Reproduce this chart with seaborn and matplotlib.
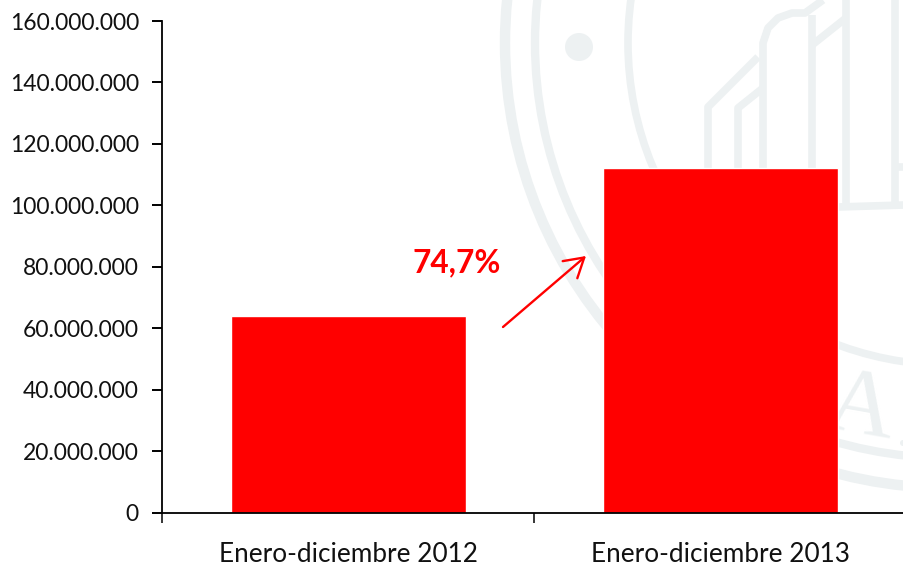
import numpy as np
import pandas as pd
import matplotlib
matplotlib.use('Agg')
import matplotlib.pyplot as plt
import seaborn as sns
from matplotlib.patches import Circle

periods = ['Enero-diciembre 2012', 'Enero-diciembre 2013']
values = [64100000, 112000000]
yticks = [0, 20000000, 40000000, 60000000, 80000000, 100000000, 120000000, 140000000, 160000000]
ylabels = ['0', '20.000.000', '40.000.000', '60.000.000', '80.000.000',
           '100.000.000', '120.000.000', '140.000.000', '160.000.000']
growth = '74,7%'

W, H = 904, 566
RED = '#ff0000'
MARK = '#edf1f2'

sns.set_style('white')
plt.rcParams['font.family'] = ['Lato', 'DejaVu Sans']

fig = plt.figure(figsize=(W / 100, H / 100), dpi=100)

# background layer in pixel coordinates: watermark, arrow, growth label
bg = fig.add_axes([0, 0, 1, 1], zorder=0)
bg.set_xlim(0, W)
bg.set_ylim(H, 0)
bg.axis('off')

for r, lw in [(445, 7.5), (415, 6), (322, 5.5)]:
    bg.add_patch(Circle((950, 43), r, fill=False, ec=MARK, lw=lw))
bg.add_patch(Circle((579, 47), 14, fc=MARK, ec='none'))
bg.add_patch(Circle((903, 443), 3, fc=MARK, ec='none'))

building = [
    ([708, 708, 758], [200, 107, 57]),
    ([738, 738, 763], [200, 108, 88]),
    ([763, 763, 768, 778, 792, 805, 823], [210, 43, 28, 18, 13, 13, 0]),
    ([812, 812], [15, 210]),
    ([812, 846], [45, 18]),
    ([846, 846], [0, 205]),
    ([895, 895], [0, 205]),
    ([895, 904], [167, 167]),
    ([838, 904], [207, 205]),
]
for xs, ys in building:
    bg.plot(xs, ys, color=MARK, lw=5.5, solid_capstyle='butt', solid_joinstyle='round')

bg.text(860, 410, 'A', family='Liberation Serif', fontsize=68, color=MARK,
        rotation=-10, ha='center', va='center')

bg.annotate('', xy=(586, 256), xytext=(503, 327),
            arrowprops=dict(arrowstyle='->,head_length=0.75,head_width=0.45',
                            mutation_scale=18, color=RED, lw=1.7, shrinkA=0, shrinkB=0))
bg.text(457, 262.5, growth, color=RED, fontsize=22.8, fontweight='bold',
        ha='center', va='center')

# main chart
df = pd.DataFrame({'period': periods, 'value': values})
ax = fig.add_axes([162.5 / W, (H - 512.5) / H, 744 / W, 491.5 / H], zorder=1)
ax.patch.set_alpha(0)
sns.barplot(data=df, x='period', y='value', color=RED, saturation=1, width=0.63, ax=ax)

ax.set_xlim(-0.5, 1.5)
ax.set_ylim(0, 160000000)
ax.set_xlabel('')
ax.set_ylabel('')
ax.set_yticks(yticks)
ax.set_yticklabels(ylabels, fontsize=16.5, color='#111111')
ax.set_xticks([-0.5, 0.5, 1.5])
ax.set_xticklabels(['', '', ''])
ax.tick_params(axis='y', left=True, length=7, width=1.4, color='black', pad=10)
ax.tick_params(axis='x', bottom=True, length=7, width=1.1, color='black')
for i, name in enumerate(periods):
    ax.text(i, -0.086, name, transform=ax.get_xaxis_transform(), fontsize=18.8,
            color='#111111', ha='center', va='center', clip_on=False)

sns.despine(ax=ax)
ax.spines['left'].set_linewidth(1.3)
ax.spines['left'].set_color('black')
ax.spines['bottom'].set_linewidth(1.3)
ax.spines['bottom'].set_color('black')

fig.savefig('out.png', dpi=100)
